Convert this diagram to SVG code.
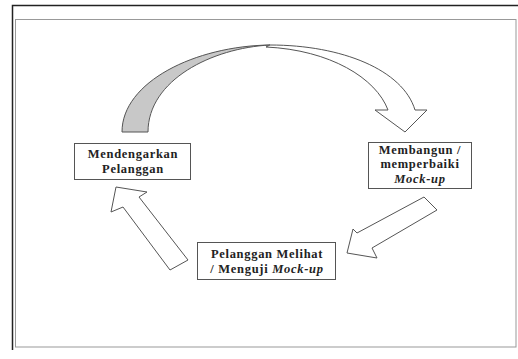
<svg xmlns="http://www.w3.org/2000/svg" width="518" height="359" viewBox="0 0 518 359">
<style>
.box{fill:#fff;stroke:#555;stroke-width:1}
.t{font-family:"Liberation Serif","Times New Roman",serif;font-weight:bold;font-size:12.5px;letter-spacing:0.7px;fill:#222;text-anchor:middle}
.arr{fill:#fff;stroke:#555;stroke-width:1;stroke-linejoin:miter}
</style>
<rect x="0" y="0" width="518" height="359" fill="#fff"/>
<g id="frame">
<path d="M12.5,350 V5.5 H518" fill="none" stroke="#222" stroke-width="1.5"/>
<rect x="15.5" y="19.5" width="500.5" height="327.5" fill="none" stroke="#999" stroke-width="1"/>
</g>
<g id="connectors">
<path class="arr" d="M122,132 C122,82 195,46 270,45 C212,48 148,80 148,132 Z" fill="#c8c8c8" style="fill:#c8c8c8"/>
<path class="arr" d="M270,45 C342,45 403,70 415,110 L427,110 L405,132 L375,110 L388,110 C376,78 330,50 266,47 Z"/>
<path class="arr" d="M170,270 L188,260 L139,197 L147,192 L116,187 L111,212 L123,207 Z"/>
<path class="arr" d="M424,197 L437,210 L372,248 L377,258 L347,253 L353,229 L357,233 Z"/>
</g>
<g id="node-mendengarkan">
<rect class="box" x="74.5" y="143.5" width="116" height="36"/>
<text class="t" x="133" y="158">Mendengarkan</text>
<text class="t" x="133" y="173">Pelanggan</text>
</g>
<g id="node-membangun">
<rect class="box" x="368.5" y="142.5" width="103" height="46"/>
<text class="t" x="420" y="154">Membangun /</text>
<text class="t" x="420" y="168">memperbaiki</text>
<text class="t" x="420" y="183"><tspan font-style="italic">Mock-up</tspan></text>
</g>
<g id="node-pelanggan">
<rect class="box" x="197.5" y="242.5" width="138" height="37"/>
<text class="t" x="267" y="258">Pelanggan Melihat</text>
<text class="t" x="267" y="273">/ Menguji <tspan font-style="italic">Mock-up</tspan></text>
</g>
</svg>
